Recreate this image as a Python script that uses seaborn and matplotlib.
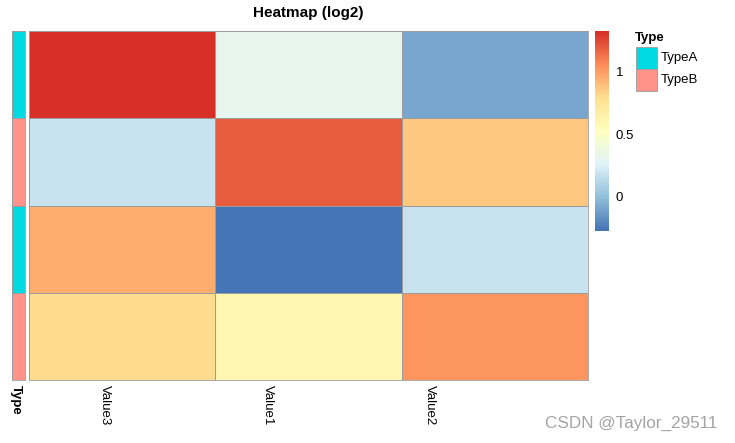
import numpy as np
import pandas as pd
import seaborn as sns
import matplotlib.pyplot as plt
from matplotlib.colors import LinearSegmentedColormap, ListedColormap
from matplotlib.patches import Rectangle

# data
rows = ["Gene1", "Gene2", "Gene3", "Gene4"]
cols = ["Value3", "Value1", "Value2"]
vals = [[1.33, 0.30, -0.10],
        [0.18, 1.20, 0.87],
        [0.95, -0.28, 0.18],
        [0.80, 0.60, 1.04]]
row_type = ["TypeA", "TypeB", "TypeA", "TypeB"]
type_names = ["TypeA", "TypeB"]
type_colors = ["#00D9E0", "#FF928B"]

plt.rcParams['font.family'] = ['Liberation Sans', 'DejaVu Sans']

df = pd.DataFrame(vals, index=rows, columns=cols)
ann = pd.DataFrame({"Type": [type_names.index(t) for t in row_type]}, index=rows)

pal = ["#4575B4", "#91BFDB", "#E0F3F8", "#FFFFBF", "#FEE090", "#FC8D59", "#D73027"]
cmap = LinearSegmentedColormap.from_list("rdylbu", pal, N=100)

W, H = 735, 443
fig = plt.figure(figsize=(W / 100, H / 100), dpi=100)

def box(x0, y0, x1, y1):
    return [x0 / W, 1 - y1 / H, (x1 - x0) / W, (y1 - y0) / H]

ax = fig.add_axes(box(29, 31, 588, 380))
ax_ann = fig.add_axes(box(12, 31, 25, 380))
cax = fig.add_axes(box(595, 31, 609, 231))

grid = "#9C9C9C"
sns.heatmap(df, ax=ax, cmap=cmap, vmin=-0.28, vmax=1.33, linewidths=0.6,
            linecolor=grid, cbar_ax=cax)
sns.heatmap(ann, ax=ax_ann, cmap=ListedColormap(type_colors), vmin=0, vmax=1,
            linewidths=0.6, linecolor=grid, cbar=False)

for a in (ax, ax_ann):
    for s in a.spines.values():
        s.set_visible(True)
        s.set_color(grid)
        s.set_linewidth(0.6)
    a.set_xlabel("")
    a.set_ylabel("")
    a.set_yticks([])
    a.tick_params(length=0)

# column labels sit a little left of the cell centres in the original
ax.set_xticks([0.41, 1.28, 2.15])
ax.set_xticklabels(cols, rotation=-90, fontsize=9.5, va="top")
ax_ann.set_xticks([0.3])
ax_ann.set_xticklabels(["Type"], rotation=-90, fontsize=9.5, fontweight="bold", va="top")

cb = ax.collections[0].colorbar
cb.outline.set_visible(False)
cb.set_ticks([0, 0.5, 1])
cb.set_ticklabels(["0", "0.5", "1"])
cax.tick_params(length=0, labelsize=9.5, pad=5)

fig.text(308 / W, 1 - 13 / H, "Heatmap (log2)", ha="center", va="center",
         fontsize=11, fontweight="bold")

# annotation legend
fig.text(635 / W, 1 - 38 / H, "Type", ha="left", va="center", fontsize=9.5, fontweight="bold")
for i, (name, c) in enumerate(zip(type_names, type_colors)):
    y0 = 47 + i * 22
    fig.patches.append(Rectangle((636 / W, 1 - (y0 + 22) / H), 21 / W, 22 / H,
                                 transform=fig.transFigure, facecolor=c,
                                 edgecolor=grid, linewidth=0.6))
    fig.text(661 / W, 1 - (y0 + 11) / H, name, ha="left", va="center", fontsize=9.5)

fig.text(717 / W, 1 - 423 / H, "CSDN @Taylor_29511", ha="right", va="center",
         fontsize=12.3, color="#A4A4A4")

plt.savefig("out.png", dpi=100)
